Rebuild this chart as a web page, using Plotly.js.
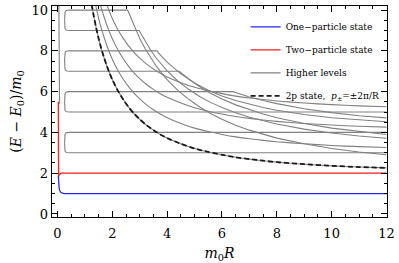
<!DOCTYPE html>
<html><head><meta charset="utf-8">
<script src="https://cdn.plot.ly/plotly-3.0.1.min.js"></script>
<style>html,body{margin:0;padding:0;background:#fff}#plot{width:399px;height:263px}</style>
</head><body><div id="plot"></div>
<script>
// ---- data ----
const R_grid = [1.2,1.3,1.4,1.5,1.6,1.7,1.8,1.9,2.0,2.2,2.4,2.6,2.8,3.0,3.25,3.5,3.75,4,4.5,5,5.5,6,6.5,7,7.5,8,9,10,11,12];
const twoP_E   = [10.66,9.87,9.20,8.61,8.10,7.66,7.26,6.91,6.59,6.05,5.61,5.23,4.91,4.64,4.35,4.11,3.90,3.72,3.44,3.21,3.04,2.90,2.78,2.69,2.61,2.54,2.44,2.36,2.30,2.26];
const fall1_E  = [11.66,10.87,10.20,9.61,9.10,8.66,8.26,7.91,7.59,7.05,6.61,6.23,5.91,5.64,5.35,5.11,4.90,4.72,4.44,4.21,4.04,3.90,3.78,3.69,3.61,3.54,3.44,3.36,3.30,3.26];
const fall2_E  = [12.66,11.87,11.20,10.61,10.10,9.66,9.26,8.91,8.59,8.05,7.61,7.23,6.91,6.64,6.35,6.11,5.90,5.72,5.44,5.21,5.04,4.90,4.78,4.69,4.61,4.54,4.44,4.36,4.30,4.26];
const fall3_E  = [13.66,12.87,12.20,11.61,11.10,10.66,10.26,9.91,9.59,9.05,8.61,8.23,7.91,7.64,7.35,7.11,6.90,6.72,6.44,6.21,6.04,5.90,5.78,5.69,5.61,5.54,5.44,5.36,5.30,5.26];

// one-particle and two-particle states
const one_R = [0.03,0.035,0.045,0.06,0.08,0.12,0.18,0.25,12];
const one_E = [1.86,1.65,1.45,1.28,1.15,1.06,1.02,1.0,1.0];
const two_R = [0.03,0.03,0.032,0.04,0.07,0.1,0.15,0.25,12];
const two_E = [5.5,3.0,2.2,1.85,1.92,1.98,2.0,2.0,2.0];

// near-zero vertical higher level
const vert_R = [0.05,0.055,0.06,0.07,0.075];
const vert_E = [10.4,8.5,7.0,5.8,5.4];

// flat levels (left bracket ends) and where they continue into falling branches
const brk_R = [0.26,0.263,0.275,0.30,0.35,0.45];
const brkUp = [-0.5,-0.22,-0.1,-0.04,-0.01,0];   // approach from below
const brkDn = [0.5,0.22,0.1,0.04,0.01,0];        // approach from above

const lev10_R = [2.56,2.6,2.8,3.0,3.2,3.4,3.6,3.8,4.0,4.4,4.8,5.2,5.6,6,6.5,7,7.5,8,9,10,11,12];
const lev10_E = [10.0,9.87,9.20,8.61,8.10,7.66,7.26,6.91,6.59,6.05,5.61,5.23,4.91,4.64,4.35,4.11,3.90,3.72,3.44,3.21,3.04,2.90];
const lev9_R  = [2.98,3.0,3.2,3.4,3.6,3.8,4.0,4.4,4.8,5.2,5.6,6,6.5,7,7.5,8,9,10,11,12];
const lev9_E  = [9.0,8.95,8.46,8.03,7.65,7.32,7.02,6.51,6.10,5.75,5.46,5.22,4.96,4.74,4.56,4.41,4.16,3.97,3.82,3.71];
const lev8_R  = [3.63,3.75,4,4.5,5,5.5,6,6.5,7,7.5,8,9,10,11,12];
const lev8_E  = [8.0,7.80,7.45,6.87,6.42,6.07,5.79,5.56,5.38,5.22,5.09,4.88,4.72,4.61,4.52];
const lev7_R  = [4.44,4.8,5.2,5.6,6,6.5,7,7.5,8,9,10,11,12];
const lev7_E  = [7.0,6.61,6.23,5.91,5.64,5.35,5.11,4.90,4.72,4.44,4.21,4.04,3.90];
const lev6_R  = [6.41,6.5,7,7.5,8,9,10,11,12];
const lev6_E  = [6.0,5.96,5.74,5.56,5.41,5.16,4.97,4.82,4.71];
const flatLevels = [10,9,8,7,6,5,4,3];
const flatEnd    = [2.56,2.98,3.63,4.44,6.41,12,12,12];

// ---- build traces ----
const SERIF = 'DejaVu Serif';
const GRAY = 'rgb(128,128,128)';
const traces = [];
const levelBranches = {10:[lev10_R,lev10_E],9:[lev9_R,lev9_E],8:[lev8_R,lev8_E],7:[lev7_R,lev7_E],6:[lev6_R,lev6_E]};
flatLevels.forEach((lv,i)=>{
  const fromBelow = (lv % 2 === 0);
  const off = fromBelow ? brkUp : brkDn;
  let xs = brk_R.slice(), ys = off.map(o=>lv+o);
  xs.push(flatEnd[i]); ys.push(lv);
  if (levelBranches[lv]) { xs = xs.concat(levelBranches[lv][0].slice(1)); ys = ys.concat(levelBranches[lv][1].slice(1)); }
  const t = {x:xs,y:ys,mode:'lines',line:{color:GRAY,width:1.1},name:'Higher levels',
    showlegend:i===0,legendrank:3,hoverinfo:'skip'};
  if (i===0) t.legendgroup='g';
  traces.push(t);
});
[fall1_E,fall2_E,fall3_E,twoP_E].forEach(ys=>{
  traces.push({x:R_grid,y:ys,mode:'lines',line:{color:GRAY,width:1.1,shape:'spline',smoothing:0.6},
    showlegend:false,hoverinfo:'skip'});
});
traces.push({x:vert_R,y:vert_E,mode:'lines',line:{color:GRAY,width:1.1},showlegend:false,hoverinfo:'skip'});
traces.push({x:two_R,y:two_E,mode:'lines',line:{color:'rgb(255,30,30)',width:1.3},name:'Two\u2212particle state',legendrank:2,legendgroup:'r'});
traces.push({x:one_R,y:one_E,mode:'lines',line:{color:'rgb(40,40,255)',width:1.3},name:'One\u2212particle state',legendrank:1,legendgroup:'b'});
traces.push({x:R_grid,y:twoP_E,mode:'lines',line:{color:'rgb(25,25,25)',width:1.8,dash:'5px,3px',shape:'spline',smoothing:0.6},
  name:'2p state,  <i>p</i><sub>\u00b1</sub>=\u00b12\u03c0/R',legendrank:4,legendgroup:'d'});

const axisCommon = {showline:true,linecolor:'black',linewidth:1.3,mirror:'allticks',ticks:'inside',ticklen:6,
  tickcolor:'black',tickwidth:1,showgrid:false,zeroline:false,
  minor:{dtick:0.5,ticklen:3,ticks:'inside',tickcolor:'black',tickwidth:1},
  tickfont:{family:SERIF,size:13,color:'black'}};
const layout = {
  width:399,height:263,margin:{l:52,r:12,t:6,b:46},paper_bgcolor:'white',plot_bgcolor:'white',
  font:{family:SERIF,color:'black'},
  xaxis:Object.assign({},axisCommon,{range:[-0.2,12.02],tick0:0,dtick:2,ticklabelstandoff:4,
    title:{text:'<i>m</i><sub>0</sub><i>R</i>',font:{size:14,family:SERIF},standoff:8}}),
  yaxis:Object.assign({},axisCommon,{range:[-0.15,10.2],tick0:0,dtick:2,
    title:{text:'(<i>E</i> \u2212 <i>E</i><sub>0</sub>)/<i>m</i><sub>0</sub>',font:{size:14,family:SERIF},standoff:6}}),
  legend:{x:0.578,y:0.97,xanchor:'left',yanchor:'top',bgcolor:'rgba(0,0,0,0)',font:{size:9,family:SERIF,color:'black'},
    traceorder:'grouped',tracegroupgap:4},
  showlegend:true
};
Plotly.newPlot('plot',traces,layout,{staticPlot:true,displayModeBar:false});
</script></body></html>
